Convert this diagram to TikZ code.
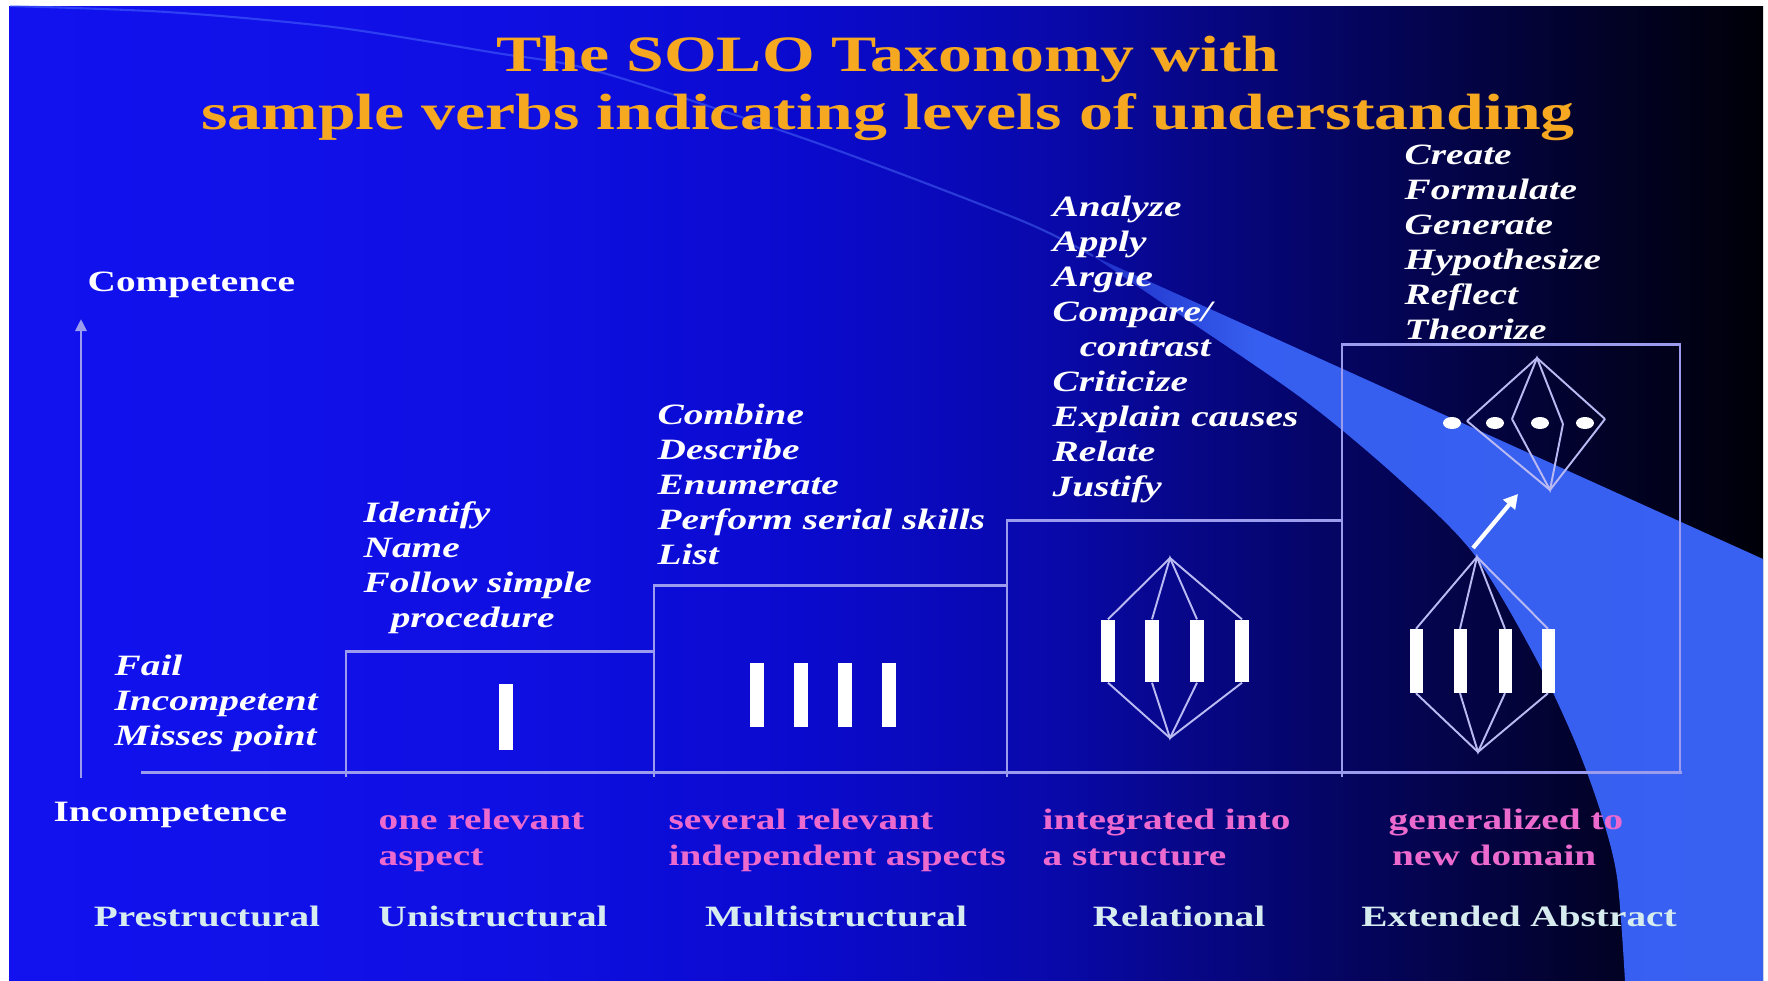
\documentclass[tikz,border=0pt]{standalone}
\usepackage{fontspec}
\setmainfont{Liberation Serif}[FakeStretch=1.33]
\usepackage{xcolor}
\usepackage{tikz}
\usetikzlibrary{shapes.geometric, arrows.meta, positioning, calc}

\definecolor{titlegold}{RGB}{245,168,32}
\definecolor{aspectpink}{RGB}{236,106,206}
\definecolor{levelgrey}{RGB}{214,236,238}
\definecolor{frameline}{RGB}{156,156,238}
\definecolor{arcblue}{RGB}{84,120,255}

\newcommand{\slidetitlefont}{\fontsize{14.5}{16.5}\selectfont\bfseries}
\newcommand{\slideverbfont}{\fontsize{8.4}{9.96}\selectfont\bfseries\itshape}
\newcommand{\slidelabelfont}{\fontsize{8.4}{10.2}\selectfont\bfseries}

\pgfdeclarehorizontalshading{slidebg}{100bp}{rgb(0bp)=(0.07,0.07,0.94);
  rgb(25bp)=(0.07,0.07,0.94); rgb(39bp)=(0.06,0.06,0.89);
  rgb(47.5bp)=(0.04,0.04,0.81); rgb(54.7bp)=(0.035,0.035,0.67);
  rgb(61.8bp)=(0.02,0.02,0.42); rgb(68.9bp)=(0.01,0.01,0.20);
  rgb(75bp)=(0,0,0.03); rgb(100bp)=(0,0,0.03)}
\pgfdeclarehorizontalshading{beamshade}{100bp}{rgb(0bp)=(0.12,0.18,0.78);
  rgb(25bp)=(0.12,0.18,0.78); rgb(37bp)=(0.21,0.37,0.94);
  rgb(75bp)=(0.22,0.38,0.95); rgb(100bp)=(0.22,0.38,0.95)}

\begin{document}
\begin{tikzpicture}[
  x=0.01cm, y=-0.01cm,
  framebox/.style = {draw=frameline, line width=0.85pt},
  thinline/.style = {draw=frameline!70!white, line width=0.55pt},
  barnode/.style = {rectangle, fill=white, inner sep=0pt,
    minimum width=0.13cm, minimum height=0.64cm},
  dotnode/.style = {ellipse, fill=white, inner sep=0pt,
    minimum width=0.18cm, minimum height=0.12cm},
  titlenode/.style = {anchor=north, inner sep=0pt, align=center,
    text=titlegold, font=\slidetitlefont},
  verbnode/.style = {anchor=north west, inner sep=0pt, align=left,
    text=white, font=\slideverbfont},
  aspectnode/.style = {anchor=north west, inner sep=0pt, align=left,
    text=aspectpink, font=\slidelabelfont},
  levelnode/.style = {anchor=base, inner sep=0pt, text=levelgrey,
    font=\slidelabelfont},
  axisnode/.style = {anchor=base west, inner sep=0pt, text=white,
    font=\slidelabelfont},
  arrow/.style = {-{Triangle[width=0.11cm, length=0.12cm]}, framebox},
  genarrow/.style = {-{Triangle[width=0.15cm, length=0.14cm]},
    draw=white, line width=1.2pt},
]
% Slide background
\fill[white] (0,0) rectangle (1768,981);
\shade[shading=slidebg] (9,6) rectangle (1763,981);

% Light beam and faint arc
\shade[shading=beamshade] (1093,256) -- (1763,559) -- (1763,981)
  -- plot[smooth] coordinates {(1625,981) (1617,877) (1600,810) (1573,737)
     (1533,653) (1473,553) (1400,480) (1300,397) (1146,292) (1093,256)}
  -- cycle;
\draw[arcblue, line width=0.6pt, opacity=0.45] plot[smooth] coordinates
  {(10,6) (167,12) (333,27) (490,52) (600,72) (817,143) (1020,220) (1093,256)};

% Title
\node[titlenode] (title) at (888,35)
  {The SOLO Taxonomy with\\sample verbs indicating levels of understanding};

% Axes
\coordinate (axisBot) at (81,778);
\coordinate (axisTop) at (81,319);
\coordinate (baseL) at (141,772);
\coordinate (baseR) at (1682,772);
\draw[arrow] (axisBot) -- (axisTop);
\draw[framebox] (baseL) -- (baseR);
\node[axisnode] (competence) at (87,291) {Competence};
\node[axisnode] (incompetence) at (53,821) {Incompetence};

% Steps
\coordinate (uniBot) at (346,777);
\coordinate (uniTL) at (346,651);
\coordinate (uniTR) at (654,651);
\coordinate (multiBot) at (654,777);
\coordinate (multiTL) at (654,585);
\coordinate (multiTR) at (1007,585);
\coordinate (relBot) at (1007,777);
\coordinate (relTL) at (1007,520);
\coordinate (relTR) at (1342,520);
\coordinate (extBot) at (1342,777);
\coordinate (extTL) at (1342,344);
\coordinate (extBR) at (1680,772);
\draw[framebox] (uniBot) -- (uniTL) -- (uniTR);
\draw[framebox] (multiBot) -- (multiTL) -- (multiTR);
\draw[framebox] (relBot) -- (relTL) -- (relTR);
\draw[framebox] (extBot) -- (extTL);
\draw[framebox] (extTL) rectangle (extBR);

% Sample verbs
\node[verbnode] (verbsPre) at (114,654) {Fail\\Incompetent\\Misses point};
\node[verbnode] (verbsUni) at (363,501)
  {Identify\\Name\\Follow simple\\\hspace*{7.7pt}procedure};
\node[verbnode] (verbsMulti) at (657,403)
  {Combine\\Describe\\Enumerate\\Perform serial skills\\List};
\node[verbnode] (verbsRel) at (1052,195)
  {Analyze\\Apply\\Argue\\Compare/\\\hspace*{7.7pt}contrast\\Criticize\\Explain causes\\Relate\\Justify};
\node[verbnode] (verbsExt) at (1404,144)
  {Create\\Formulate\\Generate\\Hypothesize\\Reflect\\Theorize};

% Unistructural
\node[barnode, minimum height=0.66cm] (ub) at (506,717) {};

% Multistructural
\node[barnode] (mb1) at (757,695) {};
\node[barnode] (mb2) at (801,695) {};
\node[barnode] (mb3) at (845,695) {};
\node[barnode] (mb4) at (889,695) {};

% Relational
\node[barnode, minimum height=0.62cm] (rb1) at (1108,651) {};
\node[barnode, minimum height=0.62cm] (rb2) at (1152,651) {};
\node[barnode, minimum height=0.62cm] (rb3) at (1197,651) {};
\node[barnode, minimum height=0.62cm] (rb4) at (1242,651) {};
\coordinate (relApex) at (1170,558);
\coordinate (relFoot) at (1170,738);
\draw[thinline] (rb1.north) -- (relApex) -- (rb4.north);
\draw[thinline] (rb2.north) -- (relApex) -- (rb3.north);
\draw[thinline] (rb1.south) -- (relFoot) -- (rb4.south);
\draw[thinline] (rb2.south) -- (relFoot) -- (rb3.south);

% Extended abstract, lower structure
\node[barnode, minimum height=0.63cm] (eb1) at (1416,661) {};
\node[barnode, minimum height=0.63cm] (eb2) at (1460,661) {};
\node[barnode, minimum height=0.63cm] (eb3) at (1505,661) {};
\node[barnode, minimum height=0.63cm] (eb4) at (1548,661) {};
\coordinate (extApex) at (1477,557);
\coordinate (extFoot) at (1478,752);
\draw[thinline] (eb1.north) -- (extApex) -- (eb4.north);
\draw[thinline] (eb2.north) -- (extApex) -- (eb3.north);
\draw[thinline] (eb1.south) -- (extFoot) -- (eb4.south);
\draw[thinline] (eb2.south) -- (extFoot) -- (eb3.south);

% Extended abstract, new domain
\node[dotnode] (ed1) at (1452,423) {};
\node[dotnode] (ed2) at (1495,423) {};
\node[dotnode] (ed3) at (1540,423) {};
\node[dotnode] (ed4) at (1585,423) {};
\coordinate (upTop) at (1537,358);
\coordinate (upBot) at (1550,490);
\coordinate (uj1) at (1467,421);
\coordinate (uj2) at (1512,419);
\coordinate (uj3) at (1563,424);
\coordinate (uj4) at (1605,419);
\draw[thinline] (uj1) -- (upTop) -- (uj4);
\draw[thinline] (uj2) -- (upTop) -- (uj3);
\draw[thinline] (uj1) -- (upBot) -- (uj4);
\draw[thinline] (uj2) -- (upBot) -- (uj3);
\coordinate (genFrom) at (1473,548);
\coordinate (genTo) at (1518,494);
\draw[genarrow] (genFrom) -- (genTo);

% Aspects
\node[aspectnode] (aspUni) at (378,808) {one relevant\\aspect};
\node[aspectnode] (aspMulti) at (668,808) {several relevant\\independent aspects};
\node[aspectnode] (aspRel) at (1042,808) {integrated into\\a structure};
\node[aspectnode] (aspExt) at (1388,808) {generalized to\\\hspace*{1pt}new domain};

% Level names
\node[levelnode] (lvPre) at (207,926) {Prestructural};
\node[levelnode] (lvUni) at (493,926) {Unistructural};
\node[levelnode] (lvMulti) at (836,926) {Multistructural};
\node[levelnode] (lvRel) at (1179,926) {Relational};
\node[levelnode] (lvExt) at (1519,926) {Extended Abstract};
\end{tikzpicture}
\end{document}
